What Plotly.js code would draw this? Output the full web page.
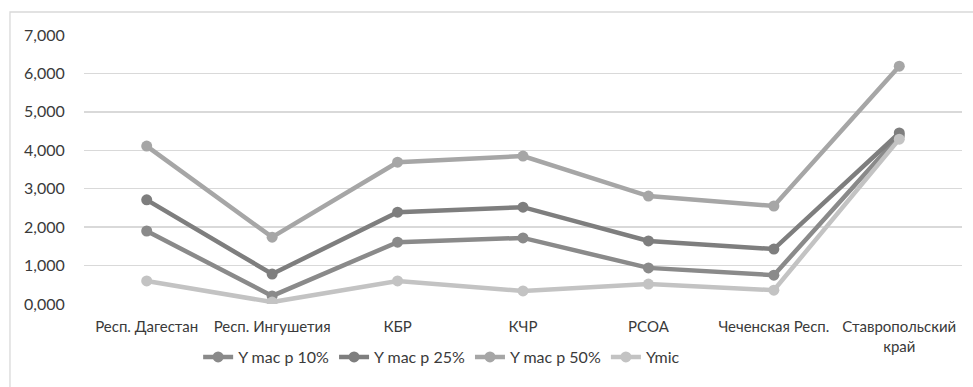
<!DOCTYPE html>
<html>
<head>
<meta charset="utf-8">
<script src="https://cdn.plot.ly/plotly-3.0.1.min.js"></script>
<style>
  html, body { margin: 0; padding: 0; background: #fff; }
  #chart { width: 973px; height: 387px; }
</style>
</head>
<body>
<div id="chart"></div>
<script>
// Regions along the x axis
const regions = [
  'Респ. Дагестан',
  'Респ. Ингушетия',
  'КБР',
  'КЧР',
  'РСОА',
  'Чеченская Респ.',
  'Ставропольский<br>край'
];

// Series values
const yMacP10 = [1.90, 0.21, 1.61, 1.72, 0.94, 0.75, 4.38];
const yMacP25 = [2.71, 0.78, 2.39, 2.52, 1.64, 1.43, 4.45];
const yMacP50 = [4.11, 1.74, 3.69, 3.85, 2.81, 2.55, 6.19];
const yMic    = [0.60, 0.05, 0.60, 0.34, 0.52, 0.36, 4.29];

// Value axis ticks (comma as decimal separator)
const yTickVals = [0, 1, 2, 3, 4, 5, 6, 7];
const yTickText = ['0,000', '1,000', '2,000', '3,000', '4,000', '5,000', '6,000', '7,000'];

const font = 'Lato, "Noto Sans", sans-serif';
const textColor = '#3a3a3a';

function series(name, y, color) {
  return {
    type: 'scatter',
    mode: 'lines+markers',
    name: name,
    x: regions,
    y: y,
    line: { color: color, width: 4.5 },
    marker: { color: color, size: 11 }
  };
}

const data = [
  series('Y mac p 10%', yMacP10, '#8a8a8a'),
  series('Y mac p 25%', yMacP25, '#7e7e7e'),
  series('Y mac p 50%', yMacP50, '#a6a6a6'),
  series('Ymic', yMic, '#c3c3c3')
];

const layout = {
  width: 973,
  height: 387,
  margin: { l: 84, r: 11, t: 35, b: 83 },
  paper_bgcolor: '#fff',
  plot_bgcolor: '#fff',
  font: { family: font, size: 15, color: textColor },
  showlegend: true,
  legend: {
    orientation: 'h',
    x: 0.13,
    xanchor: 'left',
    y: -0.197,
    yanchor: 'middle',
    font: { family: font, size: 16, color: textColor },
    traceorder: 'normal',
    itemwidth: 30,
    tracegroupgap: 0
  },
  xaxis: {
    type: 'category',
    showgrid: false,
    zeroline: false,
    showline: false,
    ticks: 'outside',
    ticklen: 9,
    tickcolor: 'rgba(0,0,0,0)',
    tickfont: { family: font, size: 15, color: textColor },
    tickangle: 0,
    automargin: false,
    range: [-0.5, 6.5]
  },
  yaxis: {
    range: [0, 7],
    tickvals: yTickVals,
    ticktext: yTickText,
    showgrid: true,
    gridcolor: '#d9d9d9',
    gridwidth: 1.3,
    zeroline: false,
    showline: false,
    ticks: 'outside',
    ticklen: 15,
    tickcolor: 'rgba(0,0,0,0)',
    tickfont: { family: font, size: 16, color: textColor },
    automargin: false
  },
  shapes: [{
    type: 'rect',
    xref: 'paper', yref: 'paper',
    x0: -0.0843, x1: 1.2,
    y0: -0.5, y1: 1.0855,
    line: { color: '#d9d9d9', width: 1.3 },
    fillcolor: 'rgba(0,0,0,0)',
    layer: 'below'
  }]
};

Plotly.newPlot('chart', data, layout, { staticPlot: true, displayModeBar: false });
</script>
</body>
</html>
